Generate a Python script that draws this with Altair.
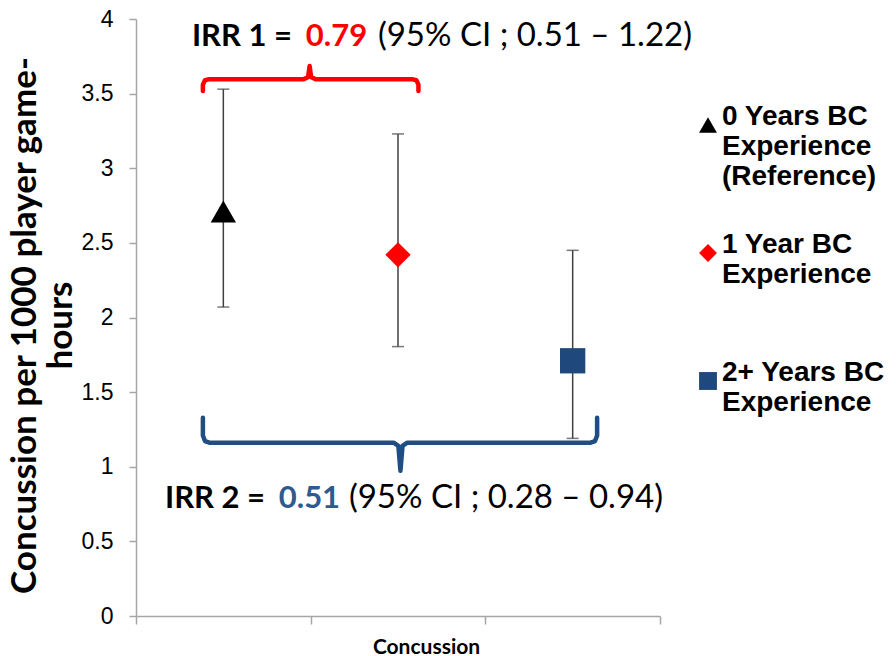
import altair as alt
import pandas as pd

NB = "\u00a0"

# ---- data ----
groups = ["0 Years BC Experience (Reference)", "1 Year BC Experience", "2+ Years BC Experience"]
legend_lines = [["0 Years BC", "Experience", "(Reference)"],
                ["1 Year BC", "Experience", NB],
                ["2+ Years BC", "Experience", NB]]
x_pos = [0.5, 1.5, 2.5]
rate = [2.71, 2.42, 1.71]
lower = [2.07, 1.805, 1.19]
upper = [3.53, 3.23, 2.45]
shapes = ["triangle-up", "diamond", "square"]
colors = ["#000000", "#ff0000", "#1f497d"]

y_ticks = [0, 0.5, 1, 1.5, 2, 2.5, 3, 3.5, 4]
x_ticks = [0, 1, 2, 3]

# brace outlines (data units)
red_bx = [0.383, 0.383, 0.395, 0.42, 0.96, 0.985, 0.994, 1.003, 1.028, 1.58, 1.605, 1.617, 1.617]
red_by = [3.517, 3.56, 3.59, 3.597, 3.597, 3.61, 3.685, 3.61, 3.597, 3.597, 3.59, 3.56, 3.517]
blue_bx = [0.383, 0.383, 0.395, 0.42, 1.475, 1.502, 1.514, 1.526, 1.553, 2.603, 2.628, 2.64, 2.64]
blue_by = [1.329, 1.21, 1.172, 1.161, 1.161, 1.14, 0.973, 1.14, 1.161, 1.161, 1.172, 1.21, 1.329]

# annotation text
irr_id = ["irr1", "irr2"]
irr_label = ["IRR 1 =", "IRR 2 ="]
irr_value = ["0.79", "0.51"]
irr_ci = ["(95% CI ; 0.51 \u2013 1.22)", "(95% CI ; 0.28 \u2013 0.94)"]
irr_label_x = [0.893, 0.739]
irr_value_x = [1.148, 0.993]
irr_ci_x = [1.385, 1.219]
irr_y = [3.819, 0.724]

# ---- tables ----
pts = pd.DataFrame({"group": groups, "x": x_pos, "rate": rate, "lo": lower, "hi": upper})
red_brace = pd.DataFrame({"bx": red_bx, "by": red_by, "order": list(range(len(red_bx)))})
blue_brace = pd.DataFrame({"bx": blue_bx, "by": blue_by, "order": list(range(len(blue_bx)))})
ann = pd.DataFrame({
    "id": irr_id, "label": irr_label, "value": irr_value, "ci": irr_ci,
    "lx": irr_label_x, "vx": irr_value_x, "cx": irr_ci_x, "y": irr_y,
})

label_map = "{" + ", ".join(
    "'%s': %s" % (g, "[" + ", ".join("'%s'" % s for s in l) + "]")
    for g, l in zip(groups, legend_lines)) + "}"

xscale = alt.Scale(domain=[0, 3], nice=False, zero=False)
yscale = alt.Scale(domain=[0, 4], nice=False)

x_axis = alt.Axis(values=x_ticks, labels=False, grid=False, tickSize=8, title="Concussion",
                  titleFont="Lato", titleFontSize=21, titleFontWeight="bold", titleColor="#000000",
                  titleX=290, titleY=37, titleBaseline="alphabetic",
                  domainColor="#a6a6a6", tickColor="#a6a6a6", domainWidth=1.5, tickWidth=1.5)
y_axis = alt.Axis(values=y_ticks, format="~g", grid=False, tickSize=7, labelPadding=16,
                  labelFont="Liberation Sans", labelFontSize=23, labelColor="#000000",
                  title=["Concussion per 1000 player game-", "hours"],
                  titleFont="Lato", titleFontSize=35, titleFontWeight="bold", titleColor="#000000",
                  titleAngle=-90, titleX=-112, titleY=306, titleAlign="center", titleBaseline="middle",
                  titleLineHeight=36,
                  domainColor="#a6a6a6", tickColor="#a6a6a6", domainWidth=1.5, tickWidth=1.5)

legend = alt.Legend(title=None, labelExpr=label_map + "[datum.label]")

base = alt.Chart(pts)

rules = base.mark_rule(color="#404040", strokeWidth=1.5).encode(
    x=alt.X("x:Q", scale=xscale, axis=x_axis),
    y=alt.Y("lo:Q", scale=yscale, axis=y_axis),
    y2="hi:Q",
)
caps_lo = base.mark_tick(color="#404040", thickness=1.5, size=12, orient="horizontal").encode(
    x=alt.X("x:Q", scale=xscale), y=alt.Y("lo:Q", scale=yscale))
caps_hi = base.mark_tick(color="#404040", thickness=1.5, size=12, orient="horizontal").encode(
    x=alt.X("x:Q", scale=xscale), y=alt.Y("hi:Q", scale=yscale))

points = base.mark_point(filled=True, size=640, opacity=1, strokeWidth=0).encode(
    x=alt.X("x:Q", scale=xscale),
    y=alt.Y("rate:Q", scale=yscale),
    shape=alt.Shape("group:N", scale=alt.Scale(domain=groups, range=shapes), legend=legend),
    color=alt.Color("group:N", scale=alt.Scale(domain=groups, range=colors), legend=legend),
)

red_line = alt.Chart(red_brace).mark_line(strokeWidth=4.5, strokeCap="round", strokeJoin="round",
                                          color="#ff0000").encode(
    x=alt.X("bx:Q", scale=xscale), y=alt.Y("by:Q", scale=yscale), order="order:Q")
blue_line = alt.Chart(blue_brace).mark_line(strokeWidth=4.5, strokeCap="round", strokeJoin="round",
                                            color="#1f4e85").encode(
    x=alt.X("bx:Q", scale=xscale), y=alt.Y("by:Q", scale=yscale), order="order:Q")

abase = alt.Chart(ann)
t_label = abase.mark_text(font="Lato", fontSize=31, fontWeight="bold", align="right", baseline="alphabetic",
                          color="#000000").encode(
    x=alt.X("lx:Q", scale=xscale), y=alt.Y("y:Q", scale=yscale), text="label:N")
t_value_red = abase.transform_filter(alt.datum.id == "irr1").mark_text(
    font="Lato", fontSize=31, fontWeight="bold", align="center", baseline="alphabetic", color="#ff0000").encode(
    x=alt.X("vx:Q", scale=xscale), y=alt.Y("y:Q", scale=yscale), text="value:N")
t_value_blue = abase.transform_filter(alt.datum.id == "irr2").mark_text(
    font="Lato", fontSize=31, fontWeight="bold", align="center", baseline="alphabetic", color="#2e5a8f").encode(
    x=alt.X("vx:Q", scale=xscale), y=alt.Y("y:Q", scale=yscale), text="value:N")
t_ci = abase.mark_text(font="Lato", fontSize=33, align="left", baseline="alphabetic", color="#000000").encode(
    x=alt.X("cx:Q", scale=xscale), y=alt.Y("y:Q", scale=yscale), text="ci:N")

chart = alt.layer(rules, caps_lo, caps_hi, red_line, blue_line, points,
                  t_label, t_value_red, t_value_blue, t_ci).properties(
    width=524, height=597,
    padding={"left": 128, "top": 11, "right": 228, "bottom": 40},
    autosize=alt.AutoSizeParams(type="none"),
).configure_view(stroke=None).configure_legend(
    orient="none", legendX=558, legendY=92, padding=0,
    labelFont="Liberation Sans", labelFontSize=28, labelFontWeight="bold", labelColor="#000000",
    labelLimit=400, labelOffset=0, labelBaseline="alphabetic",
    symbolSize=320, symbolStrokeWidth=0, rowPadding=40,
)

chart.save("out.html", embed_options={"renderer": "svg", "actions": False})
